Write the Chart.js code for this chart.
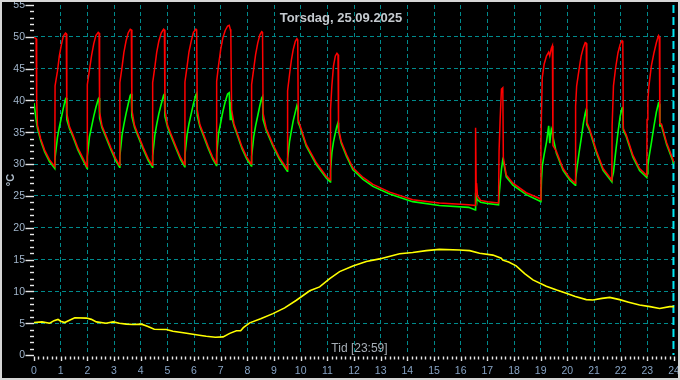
<!DOCTYPE html>
<html><head><meta charset="utf-8">
<script src="https://cdn.jsdelivr.net/npm/chart.js@4.4.1/dist/chart.umd.min.js"></script>
<style>
html,body{margin:0;padding:0;background:#000;}
#wrap{position:relative;width:680px;height:380px;overflow:hidden;}
#frame{position:absolute;left:0;top:0;width:676px;height:376px;border:2px solid #d6d6d6;pointer-events:none;}
canvas{display:block;}
</style></head><body>
<div id="wrap"><canvas id="c" width="680" height="380"></canvas><div id="frame"></div></div>
<script>
const chartTitle = 'Torsdag, 25.09.2025';
const xAxisTitle = 'Tid [23:59]';
const yAxisTitle = '°C';
const xTickLabels = ['0','1','2','3','4','5','6','7','8','9','10','11','12','13','14','15','16','17','18','19','20','21','22','23','24'];
const yTickLabels = ['0','5','10','15','20','25','30','35','40','45','50','55'];
const nowHour = 23.98;

// tank temperatures (red = top, green = bottom), hours of day
const tankTimes = [
 0.00,0.08,0.10,0.13,0.25,0.40,0.58,0.78,
 0.79,0.88,0.95,1.03,1.10,1.18,1.21,1.23,1.33,1.46,1.65,1.84,1.99,
 2.00,2.08,2.16,2.24,2.32,2.41,2.44,2.46,2.55,2.68,2.88,3.06,3.21,
 3.22,3.30,3.37,3.45,3.53,3.61,3.65,3.67,3.77,3.90,4.10,4.28,4.44,
 4.45,4.53,4.60,4.68,4.77,4.86,4.89,4.91,5.01,5.14,5.33,5.50,5.65,
 5.66,5.74,5.81,5.90,5.98,6.07,6.10,6.12,6.22,6.35,6.53,6.70,6.84,
 6.85,6.92,7.00,7.08,7.17,7.26,7.32,7.36,7.38,7.41,7.50,7.62,7.80,7.98,8.15,
 8.16,8.24,8.31,8.39,8.47,8.54,8.57,8.59,8.71,8.96,9.21,9.50,
 9.51,9.58,9.65,9.72,9.80,9.86,9.89,9.91,9.96,10.21,10.59,10.96,11.11,
 11.12,11.17,11.23,11.30,11.36,11.40,11.42,11.52,11.72,11.96,12.34,12.71,13.34,14.20,15.20,16.30,16.55,
 16.56,16.58,16.60,16.63,16.75,17.00,17.42,
 17.44,17.48,17.53,17.58,17.60,17.71,17.96,18.46,18.96,19.00,
 19.01,19.03,19.06,19.13,19.22,19.30,19.34,19.40,19.44,19.46,19.59,19.84,20.09,20.30,
 20.31,20.35,20.44,20.52,20.60,20.67,20.71,20.73,20.83,21.09,21.34,21.67,
 21.68,21.73,21.81,21.90,21.98,22.05,22.08,22.10,22.21,22.46,22.71,22.98,
 22.99,23.02,23.06,23.15,23.25,23.34,23.42,23.45,23.47,23.53,23.72,24.00
];
const redValues = [
 49.9,49.7,40.0,36.1,34.0,32.2,30.7,29.6,
 42.3,44.6,47.0,48.8,50.1,50.6,50.5,38.0,35.9,34.6,32.5,30.9,29.6,
 42.5,44.8,47.1,48.9,50.2,50.7,50.6,38.2,36.0,34.7,32.6,30.9,29.8,
 42.8,45.2,47.5,49.3,50.6,51.2,51.1,38.5,36.1,34.7,32.6,30.9,29.8,
 42.8,45.2,47.5,49.3,50.6,51.2,51.1,38.5,36.1,34.7,32.7,31.0,29.9,
 42.9,45.3,47.6,49.4,50.7,51.2,51.1,38.6,36.2,34.8,32.8,31.1,30.1,
 43.0,45.5,48.0,49.8,51.0,51.7,51.8,51.2,50.8,38.5,36.3,34.9,32.7,31.1,30.0,
 42.5,45.0,47.2,49.0,50.3,50.8,50.7,38.0,35.6,33.1,31.0,29.2,
 41.5,44.0,46.3,48.0,49.3,49.7,49.5,37.0,36.3,33.1,30.2,28.1,27.5,
 38.6,42.3,45.4,47.0,47.4,47.2,35.6,33.6,31.5,29.4,27.9,26.8,25.6,24.4,23.9,23.6,23.5,
 35.7,27.0,26.8,25.0,24.3,24.1,23.9,
 32.0,37.0,41.8,42.0,31.0,28.3,27.0,25.5,24.6,24.4,
 33.3,37.8,43.6,45.7,47.0,47.6,47.0,48.2,48.6,32.9,32.0,29.3,27.8,27.0,
 39.1,42.3,44.9,47.0,48.3,49.1,49.0,36.6,35.6,32.1,29.3,27.5,
 36.0,42.3,45.1,47.5,48.8,49.4,49.3,35.6,34.6,31.4,29.3,28.2,
 37.0,40.0,42.3,45.4,47.5,49.1,50.2,50.0,36.4,36.3,33.4,30.3
];
const greenValues = [
 39.6,37.0,36.4,35.6,33.7,31.9,30.4,29.3,
 31.0,34.2,35.8,37.4,38.8,40.2,40.4,37.0,35.6,34.3,32.2,30.6,29.3,
 31.2,34.3,35.9,37.5,38.9,40.2,40.4,37.2,35.7,34.4,32.3,30.6,29.5,
 31.3,34.5,36.2,37.9,39.4,40.8,41.0,37.5,35.8,34.4,32.3,30.6,29.5,
 31.3,34.5,36.2,37.9,39.4,40.8,41.0,37.5,35.8,34.4,32.4,30.7,29.6,
 31.4,34.6,36.3,38.0,39.5,40.9,41.1,37.6,35.9,34.5,32.5,30.8,29.8,
 31.5,34.8,36.5,38.2,39.8,41.0,41.2,37.0,39.8,37.5,36.0,34.6,32.4,30.8,29.7,
 31.2,34.3,36.0,37.6,39.2,40.4,40.6,37.0,35.3,32.8,30.7,28.9,
 30.8,33.5,35.2,36.8,38.2,39.2,38.8,36.5,36.0,32.8,29.9,27.8,27.2,
 29.0,31.8,33.5,34.9,36.0,36.5,35.2,33.3,31.2,29.1,27.6,26.5,25.3,24.1,23.5,23.2,22.8,
 25.5,25.0,24.6,24.4,24.0,23.8,23.6,
 25.0,27.0,29.2,30.7,30.5,28.0,26.7,25.2,24.2,24.1,
 24.4,27.5,29.7,31.5,33.5,36.0,33.3,35.5,35.0,34.3,31.7,29.0,27.5,26.7,
 27.5,29.0,31.8,34.0,36.4,38.0,38.6,36.2,35.3,31.8,29.0,27.2,
 27.8,28.7,31.8,35.0,37.5,38.8,39.0,35.3,34.3,31.1,29.0,27.9,
 28.5,29.7,31.0,33.3,36.0,38.2,39.6,39.5,36.0,36.0,33.1,30.0
];

// outdoor temperature (yellow)
const outdoorTimes = [0.00,0.30,0.59,0.75,0.90,1.00,1.15,1.35,1.53,1.97,2.15,2.34,2.70,2.97,3.20,3.46,3.70,4.03,4.25,4.51,4.96,5.21,5.60,5.96,6.20,6.46,6.80,7.09,7.34,7.59,7.75,7.85,8.09,8.50,8.96,9.40,9.84,10.34,10.71,11.09,11.46,11.96,12.46,12.96,13.71,14.20,14.71,15.20,15.96,16.34,16.71,17.21,17.52,17.58,17.80,18.08,18.40,18.71,19.21,19.60,19.96,20.30,20.71,20.96,21.30,21.59,21.96,22.30,22.71,23.10,23.46,23.84,24.00];
const outdoorValues = [5.1,5.2,5.0,5.4,5.6,5.3,5.1,5.5,5.85,5.8,5.6,5.2,5.0,5.2,5.0,4.85,4.8,4.85,4.5,4.05,4.0,3.74,3.5,3.26,3.1,2.95,2.8,2.85,3.4,3.8,3.8,4.3,5.05,5.7,6.5,7.4,8.6,10.1,10.7,12.0,13.1,14.0,14.7,15.1,15.9,16.1,16.4,16.6,16.5,16.4,16.0,15.7,15.2,14.9,14.6,14.0,12.8,11.8,10.8,10.2,9.7,9.2,8.7,8.65,8.9,9.05,8.7,8.3,7.85,7.6,7.3,7.6,7.6];

const pts = (xs, ys) => xs.map((t, i) => ({x: t, y: ys[i]}));

const FONT = '"Liberation Sans", Arial, sans-serif';
const GRID = '#008a8c';

const decor = {
  id: 'decor',
  beforeDatasetsDraw(chart) {
    const {ctx, chartArea: a, scales: {x}} = chart;
    const px = x.getPixelForValue(nowHour);
    ctx.save();
    ctx.strokeStyle = '#00e6f2'; ctx.lineWidth = 2; ctx.setLineDash([8, 4]);
    ctx.beginPath(); ctx.moveTo(px, a.top); ctx.lineTo(px, a.bottom); ctx.stroke();
    ctx.restore();
  },
  afterDraw(chart) {
    const {ctx, chartArea: a, scales: {x, y}} = chart;
    ctx.save();
    ctx.strokeStyle = '#e8e8e8'; ctx.lineWidth = 1.4;
    for (let v = 0; v <= 55; v++) {
      const py = Math.round(y.getPixelForValue(v)) + 0.5;
      ctx.beginPath(); ctx.moveTo(v % 5 === 0 ? a.left - 8.5 : a.left - 4, py); ctx.lineTo(a.left, py); ctx.stroke();
    }
    for (let i = 0; i <= 144; i++) {
      const px = Math.round(x.getPixelForValue(i / 6)) + 0.5;
      ctx.beginPath(); ctx.moveTo(px, a.bottom + 1.5); ctx.lineTo(px, a.bottom + (i % 6 === 0 ? 6 : 4.5)); ctx.stroke();
    }
    ctx.font = '10.5px ' + FONT;
    ctx.fillStyle = '#a2b6cc'; ctx.textAlign = 'right'; ctx.textBaseline = 'middle';
    yTickLabels.forEach(l => ctx.fillText(l, a.left - 9, y.getPixelForValue(Number(l)) + 0.5));
    ctx.fillStyle = '#86a3c4'; ctx.textAlign = 'center';
    xTickLabels.forEach(l => ctx.fillText(l, x.getPixelForValue(Number(l)), a.bottom + 16.5));
    ctx.fillStyle = '#c4c9ce'; ctx.font = 'bold 13px ' + FONT;
    ctx.fillText(chartTitle, 341, 18);
    ctx.fillStyle = '#a6aeb6'; ctx.font = '12px ' + FONT;
    ctx.fillText(xAxisTitle, 359.5, 349);
    ctx.translate(11, 180); ctx.rotate(-Math.PI / 2);
    ctx.fillStyle = '#b4c2d0'; ctx.font = 'bold 11px ' + FONT;
    ctx.fillText(yAxisTitle, 0, 0);
    ctx.restore();
  }
};

// Chart.js draws the first dataset on top
new Chart(document.getElementById('c'), {
  type: 'line',
  data: {
    datasets: [
      {label: 'Topp', data: pts(tankTimes, redValues), borderColor: '#ff0000', borderWidth: 1.5},
      {label: 'Bunn', data: pts(tankTimes, greenValues), borderColor: '#00ff00', borderWidth: 1.6},
      {label: 'Ute', data: pts(outdoorTimes, outdoorValues), borderColor: '#ffff00', borderWidth: 1.6}
    ]
  },
  options: {
    responsive: false, animation: false, devicePixelRatio: 1,
    layout: {padding: {left: 34, right: 6, top: 5, bottom: 25}},
    elements: {point: {radius: 0}, line: {tension: 0}},
    plugins: {legend: {display: false}, tooltip: {enabled: false}, title: {display: false}},
    scales: {
      x: {type: 'linear', min: 0, max: 24,
          ticks: {display: false, stepSize: 1},
          grid: {drawTicks: false, lineWidth: 1, color: c => (c.tick && c.tick.value > 0 && c.tick.value < 24) ? GRID : 'rgba(0,0,0,0)'},
          border: {display: false, dash: [4, 3]}},
      y: {type: 'linear', min: 0, max: 55,
          ticks: {display: false, stepSize: 5},
          grid: {drawTicks: false, lineWidth: 1, color: c => (c.tick && c.tick.value > 0 && c.tick.value < 55) ? GRID : 'rgba(0,0,0,0)'},
          border: {display: false, dash: [4, 3]}}
    }
  },
  plugins: [decor]
});
</script>
</body></html>
